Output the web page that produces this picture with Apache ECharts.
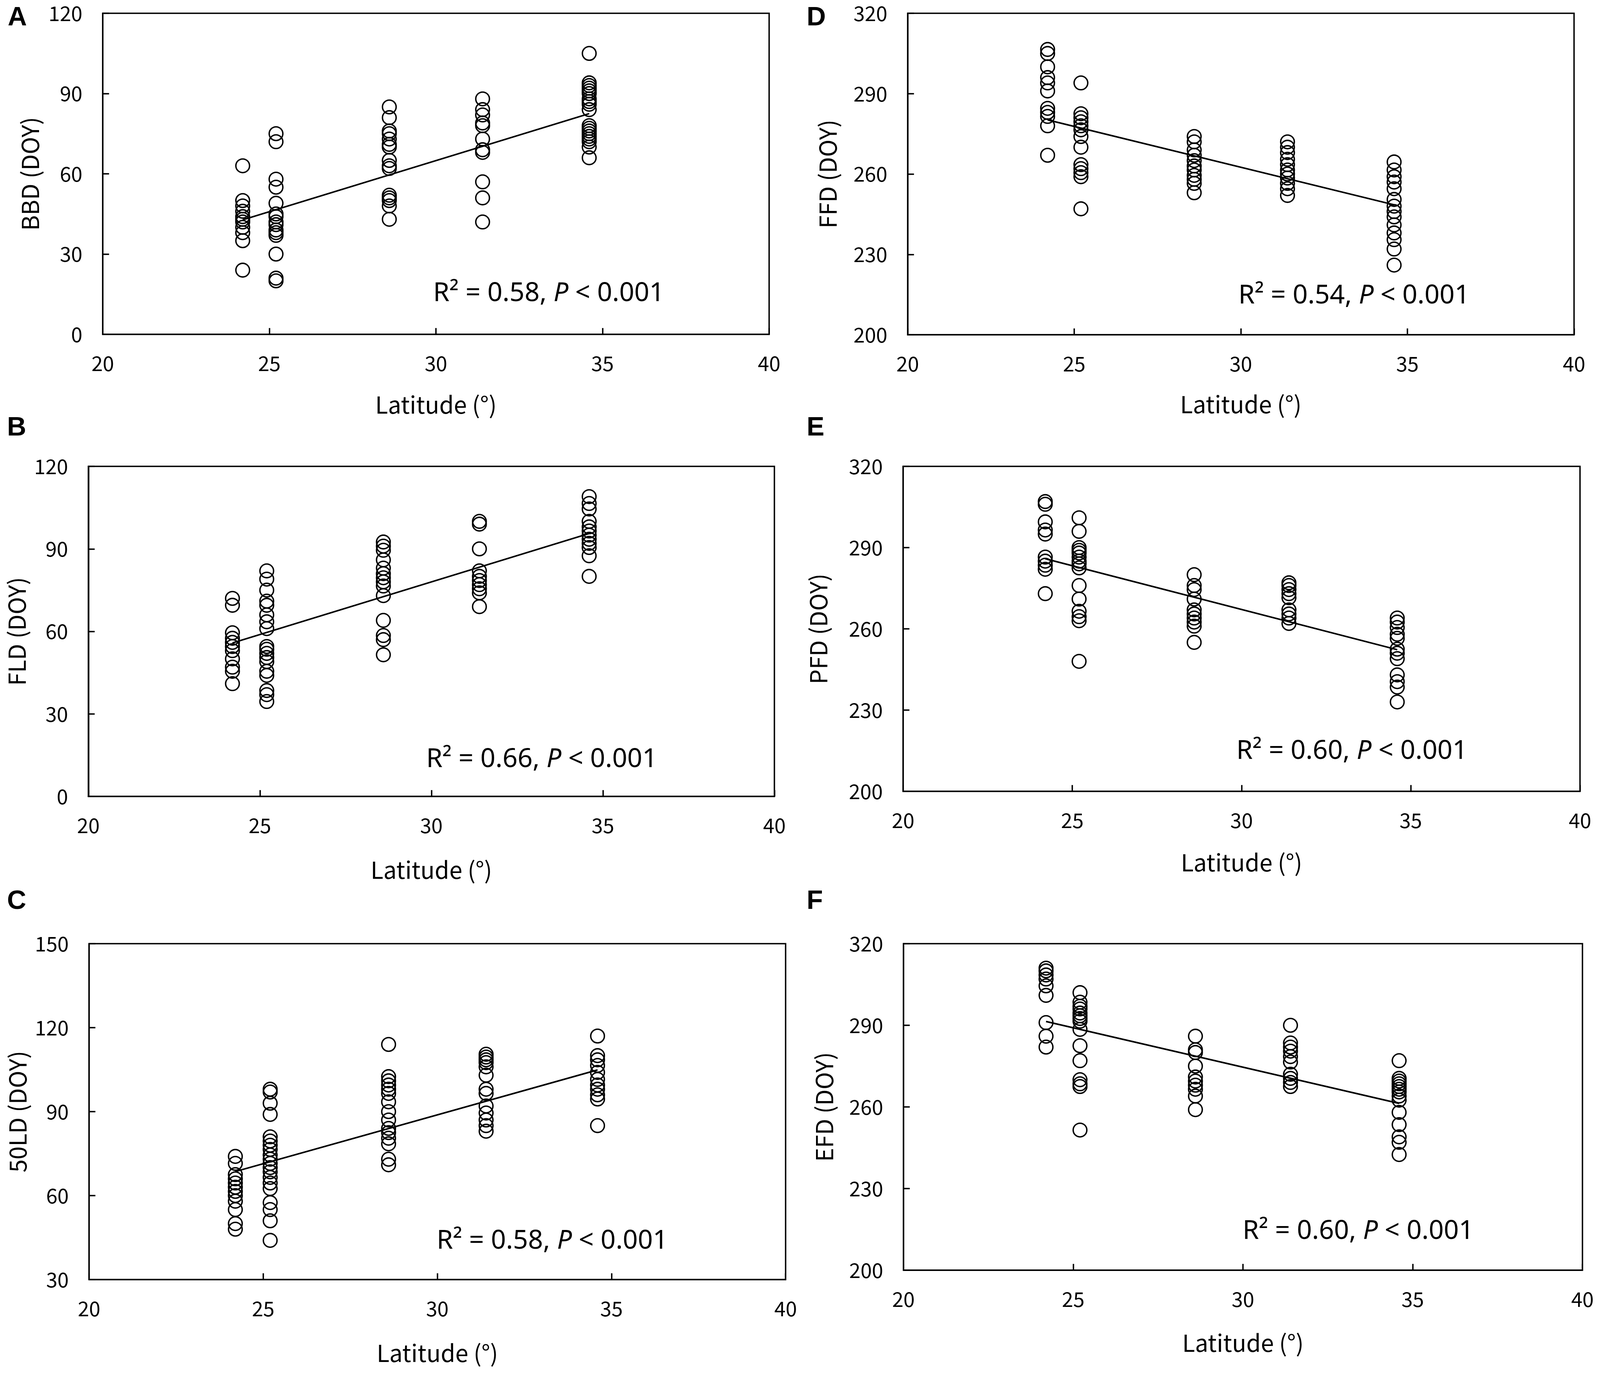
<!DOCTYPE html>
<html>
<head>
<meta charset="utf-8">
<title>Phenology vs latitude</title>
<script src="https://cdn.jsdelivr.net/npm/echarts@6/dist/echarts.min.js"></script>
<style>
html, body { margin: 0; padding: 0; background: #fff; overflow: hidden; }
#chart { width: 100vw; height: 100vh; }
</style>
</head>
<body>
<div id="chart"></div>
<script>
// latitude of the five sites, one column of points per site
var latitude = [24.2, 25.2, 28.6, 31.4, 34.6];

// DOY values per site
var bbd = [
  [63, 50, 48, 46, 44, 43, 42, 40, 38, 35, 24],
  [75, 72, 58, 55, 49, 45, 44, 42, 41, 39, 38, 37, 30, 21, 20],
  [85, 81, 76, 75, 73, 71, 70, 65, 63, 62, 52, 51, 50, 48, 43],
  [88, 84, 82, 79, 78, 73, 69, 68, 57, 51, 42],
  [105, 94, 93, 92, 91, 90, 88, 87, 86, 84, 78, 77, 76, 75, 74, 73, 72, 70, 66]
];
var fld = [
  [72, 69.5, 59.5, 57.5, 56, 54.5, 53, 50, 47, 45.5, 41],
  [82, 79, 75, 71, 69.5, 66, 63.5, 61, 54.5, 53.5, 52, 50.5, 49, 45.5, 44, 38.5, 37, 34.5],
  [92.5, 91, 89.5, 86, 83, 81, 79.5, 78, 76.5, 73, 64, 58.5, 57, 51.5],
  [100, 99, 90, 82, 80, 78.5, 77, 75.5, 74, 69],
  [109, 106.5, 104.5, 100, 98, 96.5, 95, 93.5, 92, 90.5, 87.5, 80]
];
var ld50 = [
  [74, 71.5, 67.5, 66, 64.5, 63, 61.5, 60, 58, 55, 50, 48],
  [98, 97, 93, 89, 81, 79.5, 78, 76.5, 74.5, 73, 71.5, 70, 68.5, 66.5, 64.5, 62.5, 57.5, 55, 51, 44],
  [114, 102.5, 101, 99.5, 98, 96.5, 93.5, 90, 87, 84, 82.5, 80.5, 78.5, 73, 71],
  [110.5, 109.5, 108.5, 107.5, 106, 103, 98, 96.5, 92, 89.5, 87, 85, 83],
  [117, 110, 108.5, 106.5, 104, 101.5, 99.5, 98, 96, 94.5, 85]
];
var ffd = [
  [306.5, 305, 300, 296, 294, 291, 284.5, 283, 281.5, 278, 267],
  [294, 282.5, 281, 279.5, 278, 276.5, 274, 270, 263.5, 262, 260.5, 259, 247],
  [274, 272, 269, 267, 265, 263, 261.5, 259.5, 258, 256.5, 253],
  [272, 270, 268, 265.5, 263.5, 261.5, 260, 258.5, 256.5, 254.5, 252],
  [264.5, 261.5, 259, 257, 254.5, 250.5, 248, 246, 244, 241, 238, 235.5, 232, 226]
];
var pfd = [
  [307, 306, 299.5, 296.5, 295, 286.5, 285, 283.5, 282, 273],
  [301, 296, 290, 289, 288, 286.5, 285, 284, 282.5, 276, 271, 266.5, 264.5, 263, 248],
  [280, 276, 274.5, 271, 267, 265.5, 264, 262.5, 261, 255],
  [277, 276, 274.5, 273, 271.5, 267, 265.5, 264, 262],
  [264, 262.5, 260.5, 258, 256.5, 252.5, 251, 249, 243, 240.5, 238.5, 233]
];
var efd = [
  [311, 310, 308.5, 307, 304.5, 301, 291, 286, 282],
  [302, 298.5, 297, 296, 294.5, 293.5, 292.5, 291.5, 288.5, 282.5, 277, 270, 268.5, 267.5, 251.5],
  [286, 281, 280, 275, 271, 269.5, 268, 266.5, 264, 259],
  [290, 283.5, 282, 280.5, 278.5, 276.5, 272, 270.5, 269, 267.5],
  [277, 270.5, 269.5, 268.5, 267.5, 266.5, 265.5, 264, 262.5, 258, 253.5, 249, 247, 242.5]
];

// fitted regression line, value at the first and the last site
var fitBBD = [42.8, 82.5];
var fitFLD = [55.8, 95.6];
var fitLD50 = [68.6, 104.9];
var fitFFD = [280.2, 248.5];
var fitPFD = [285.9, 252.3];
var fitEFD = [291.4, 261.3];

var xTicks = { min: 20, max: 40, interval: 5 };
var yEarly = { min: 0, max: 120, interval: 30 };
var yLD = { min: 30, max: 150, interval: 30 };
var yLate = { min: 200, max: 320, interval: 30 };

// layout is designed for a 4562 x 3528 page, scaled to the real window below
var panels = [
  { letter: 'A', name: 'BBD (DOY)', data: bbd, fit: fitBBD, r2: '0.58', y: yEarly,
    grid: { left: 293, top: 34, width: 1900, height: 822 }, letterAt: [22, 12], noteAt: [1235, 752], yGap: 174, xGap: 150 },
  { letter: 'B', name: 'FLD (DOY)', data: fld, fit: fitFLD, r2: '0.66', y: yEarly,
    grid: { left: 252, top: 1194, width: 1956, height: 845 }, letterAt: [20, 1062], noteAt: [1215, 1945], yGap: 170, xGap: 158 },
  { letter: 'C', name: '50LD (DOY)', data: ld50, fit: fitLD50, r2: '0.58', y: yLD,
    grid: { left: 254, top: 2416, width: 1986, height: 860 }, letterAt: [20, 2274], noteAt: [1245, 3178], yGap: 170, xGap: 158 },
  { letter: 'D', name: 'FFD (DOY)', data: ffd, fit: fitFFD, r2: '0.54', y: yLate,
    grid: { left: 2588, top: 34, width: 1900, height: 823 }, letterAt: [2300, 12], noteAt: [3531, 758], yGap: 194, xGap: 148 },
  { letter: 'E', name: 'PFD (DOY)', data: pfd, fit: fitPFD, r2: '0.60', y: yLate,
    grid: { left: 2575, top: 1194, width: 1930, height: 832 }, letterAt: [2300, 1062], noteAt: [3525, 1924], yGap: 208, xGap: 152 },
  { letter: 'F', name: 'EFD (DOY)', data: efd, fit: fitEFD, r2: '0.60', y: yLate,
    grid: { left: 2576, top: 2416, width: 1936, height: 836 }, letterAt: [2300, 2274], noteAt: [3543, 3153], yGap: 192, xGap: 156 }
];

var FONT = '"Noto Sans CJK JP", "Noto Sans", sans-serif';
var el = document.getElementById('chart');
var W = el.clientWidth || window.innerWidth, H = el.clientHeight || window.innerHeight;
var sx = W / 4562, sy = H / 3528, s = Math.min(sx, sy);

var grids = [], xAxes = [], yAxes = [], series = [], graphics = [];

panels.forEach(function (p, k) {
  grids.push({
    left: p.grid.left * sx, top: p.grid.top * sy, width: p.grid.width * sx, height: p.grid.height * sy,
    show: true, borderColor: '#000', borderWidth: 4 * s, backgroundColor: 'transparent'
  });
  var axisCommon = {
    axisLine: { show: true, lineStyle: { color: '#000', width: 4 * s } },
    axisTick: { show: true, inside: true, length: 18 * s, lineStyle: { color: '#000', width: 4 * s } },
    splitLine: { show: false },
    nameTextStyle: { color: '#000', fontSize: 67 * s, fontFamily: FONT }
  };
  xAxes.push(Object.assign({}, axisCommon, {
    type: 'value', gridIndex: k, min: xTicks.min, max: xTicks.max, interval: xTicks.interval,
    name: 'Latitude (°)', nameLocation: 'middle', nameGap: p.xGap * sy,
    axisLabel: { color: '#000', fontSize: 58 * s, fontFamily: FONT, margin: 48 * sy }
  }));
  yAxes.push(Object.assign({}, axisCommon, {
    type: 'value', gridIndex: k, min: p.y.min, max: p.y.max, interval: p.y.interval,
    name: p.name, nameLocation: 'middle', nameGap: p.yGap * sx,
    axisLabel: { color: '#000', fontSize: 58 * s, fontFamily: FONT, margin: 58 * sx }
  }));

  var pts = [];
  p.data.forEach(function (vals, i) {
    vals.forEach(function (v) { pts.push([latitude[i], v]); });
  });
  series.push({
    type: 'scatter', xAxisIndex: k, yAxisIndex: k, data: pts,
    symbol: 'circle', symbolSize: 39 * s,
    itemStyle: { color: 'rgba(0,0,0,0)', borderColor: '#000', borderWidth: 4 * s, opacity: 1 },
    emphasis: { disabled: true }, z: 2
  });
  series.push({
    type: 'line', xAxisIndex: k, yAxisIndex: k,
    data: [[latitude[0], p.fit[0]], [latitude[latitude.length - 1], p.fit[1]]],
    symbol: 'none', lineStyle: { color: '#000', width: 4.5 * s }, z: 3
  });

  graphics.push({
    type: 'text', x: p.letterAt[0] * sx, y: p.letterAt[1] * sy,
    style: { text: p.letter, fill: '#000', font: 'bold ' + Math.round(76 * s) + 'px "Liberation Sans", Arial, sans-serif', verticalAlign: 'top' }
  });
  graphics.push({
    type: 'text', x: p.noteAt[0] * sx, y: p.noteAt[1] * sy,
    style: {
      text: '{a|R² = ' + p.r2 + ', }{i|P}{a| < 0.001}',
      verticalAlign: 'middle', fill: '#000',
      rich: {
        a: { fontSize: 75 * s, fontFamily: '"Noto Sans", sans-serif', fill: '#000' },
        i: { fontSize: 75 * s, fontFamily: '"Noto Sans", sans-serif', fontStyle: 'italic', fill: '#000' }
      }
    }
  });
});

var myChart = echarts.init(el);
myChart.setOption({
  animation: false,
  backgroundColor: '#fff',
  grid: grids,
  xAxis: xAxes,
  yAxis: yAxes,
  series: series,
  graphic: graphics
});
</script>
</body>
</html>
